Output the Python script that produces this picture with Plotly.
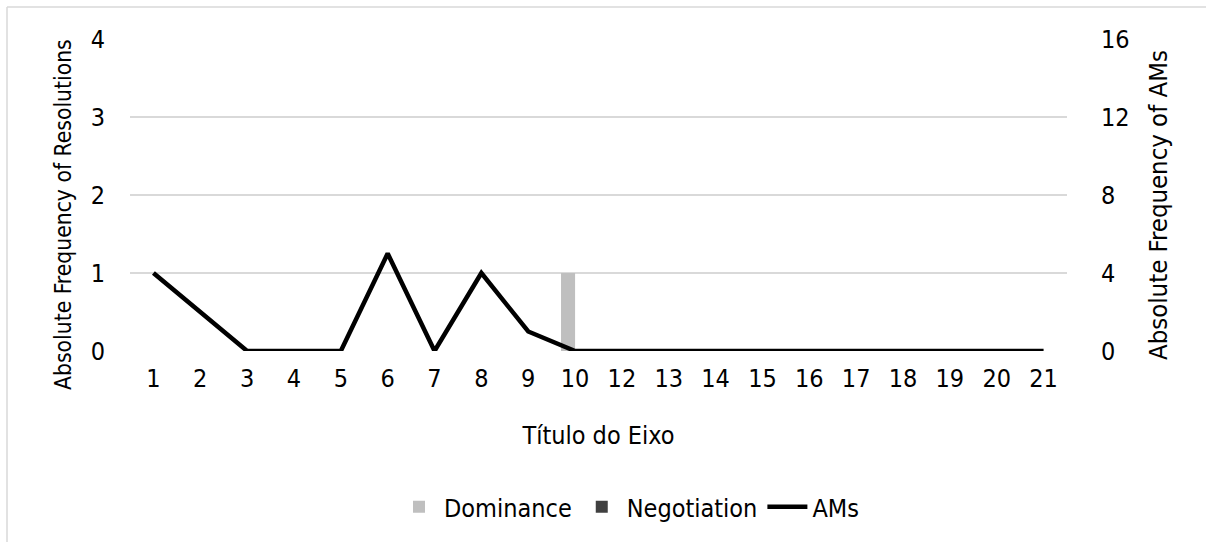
import plotly.graph_objects as go

# Category labels (no "11" in the series)
categories = ["1", "2", "3", "4", "5", "6", "7", "8", "9", "10",
              "12", "13", "14", "15", "16", "17", "18", "19", "20", "21"]
dominance = [0, 0, 0, 0, 0, 0, 0, 0, 0, 1, 0, 0, 0, 0, 0, 0, 0, 0, 0, 0]
negotiation = [0] * 20
ams = [4, 2, 0, 0, 0, 5, 0, 4, 1, 0, 0, 0, 0, 0, 0, 0, 0, 0, 0, 0]

FONT = "DejaVu Sans Condensed, sans-serif"
FS = 25
W, H = 1206, 542
L, R, T, B = 130, 139, 39, 191
pw, ph = W - L - R, H - T - B

def px_x(x):
    return (x - L) / pw

def px_y(y):
    return (H - B - y) / ph

fig = go.Figure()
fig.add_trace(go.Bar(x=categories, y=dominance, name="Dominance",
                     marker=dict(color="#bfbfbf", line=dict(width=0))))
fig.add_trace(go.Bar(x=categories, y=negotiation, name="Negotiation",
                     marker=dict(color="#404040", line=dict(width=0))))
fig.add_trace(go.Scatter(x=categories, y=ams, name="AMs", mode="lines",
                         line=dict(color="black", width=4.5), yaxis="y2"))

fig.update_layout(
    width=W, height=H,
    margin=dict(l=L, r=R, t=T, b=B),
    paper_bgcolor="white", plot_bgcolor="white",
    font=dict(family=FONT, size=FS, color="black"),
    barmode="group", bargap=0.4, bargroupgap=0,
    showlegend=True,
    legend=dict(orientation="h", x=px_x(629), y=px_y(507),
                xanchor="center", yanchor="middle",
                font=dict(size=FS), itemwidth=40, traceorder="normal"),
    xaxis=dict(type="category", showgrid=False, ticks="", showline=False,
               zeroline=False, ticklabelstandoff=10,
               title=dict(text="Título do Eixo", standoff=34,
                          font=dict(size=25))),
    yaxis=dict(range=[0, 4], dtick=1, showgrid=True, gridcolor="#d9d9d9",
               gridwidth=1.5, zeroline=False, ticks="", ticklabelstandoff=24),
    yaxis2=dict(range=[0, 16], dtick=4, overlaying="y", side="right",
                showgrid=False, zeroline=False, ticks="",
                ticklabelstandoff=33),
    annotations=[
        dict(text="Absolute Frequency of Resolutions", textangle=-90,
             xref="paper", yref="paper", x=px_x(63), y=px_y(215),
             xanchor="center", yanchor="middle", showarrow=False,
             font=dict(size=22.7)),
        dict(text="Absolute Frequency of AMs", textangle=-90,
             xref="paper", yref="paper", x=px_x(1158), y=px_y(205),
             xanchor="center", yanchor="middle", showarrow=False,
             font=dict(size=25.5)),
    ],
    shapes=[
        dict(type="line", xref="paper", yref="paper",
             x0=px_x(7), x1=px_x(7), y0=px_y(560), y1=px_y(7),
             line=dict(color="#d9d9d9", width=1.5)),
        dict(type="line", xref="paper", yref="paper",
             x0=px_x(7), x1=px_x(1220), y0=px_y(7), y1=px_y(7),
             line=dict(color="#d9d9d9", width=1.5)),
    ],
)

fig.write_html("out.html")
